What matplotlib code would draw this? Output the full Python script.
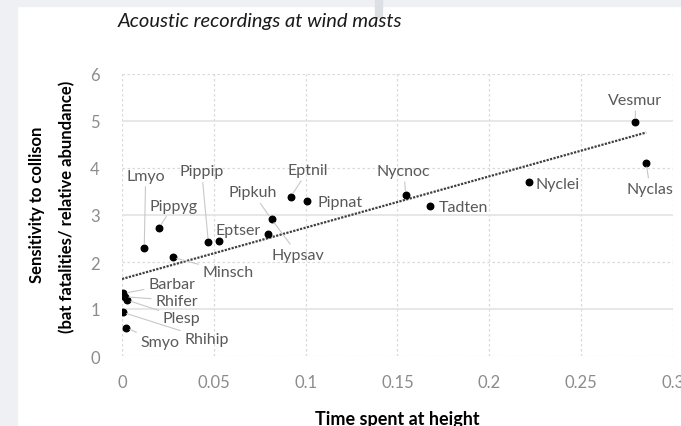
import numpy as np
import matplotlib.pyplot as plt
from matplotlib.patches import Rectangle

# species codes and their values
species = ["Lmyo", "Pippyg", "Minsch", "Pippip", "Hypsav", "Eptser", "Pipkuh",
           "Eptnil", "Pipnat", "Nycnoc", "Tadten", "Nyclei", "Vesmur", "Nyclas",
           "Barbar", "Rhifer", "Plesp", "Rhihip", "Smyo"]
time_at_height = [0.0121, 0.0201, 0.0276, 0.0470, 0.0528, 0.0793, 0.0814,
                  0.0919, 0.1005, 0.1545, 0.1676, 0.2214, 0.2795, 0.2854,
                  0.0007, 0.0015, 0.0027, 0.0004, 0.0022]
sensitivity = [2.30, 2.72, 2.10, 2.43, 2.45, 2.60, 2.91,
               3.39, 3.29, 3.43, 3.20, 3.71, 4.97, 4.11,
               1.33, 1.26, 1.19, 0.93, 0.60]

# where each data label sits, and which point its leader line goes to (None = no line)
label_x = [0.0129, 0.0279, 0.0578, 0.0434, 0.0960, 0.0633, 0.0711,
           0.1014, 0.1186, 0.1534, 0.1857, 0.2374, 0.2795, 0.2875,
           0.0270, 0.0297, 0.0325, 0.0461, 0.0207]
label_y = [3.84, 3.20, 1.78, 3.93, 2.15, 2.69, 3.48,
           3.96, 3.28, 3.94, 3.18, 3.67, 5.45, 3.55,
           1.53, 1.18, 0.81, 0.36, 0.29]
leader_to = ["Lmyo", "Pippyg", "Minsch", "Pippip", "Pipkuh", None, "Pipkuh",
             "Eptnil", None, "Nycnoc", None, None, "Vesmur", "Nyclas",
             "Barbar", "Rhifer", "Plesp", "Rhihip", "Smyo"]

x_ticks = [0, 0.05, 0.1, 0.15, 0.2, 0.25, 0.3]
x_tick_labels = ["0", "0.05", "0.1", "0.15", "0.2", "0.25", "0.3"]
y_ticks = [0, 1, 2, 3, 4, 5, 6]

plt.rcParams["font.family"] = ["Lato", "DejaVu Sans"]

fig = plt.figure(figsize=(6.81, 4.27), dpi=100)
fig.patch.set_facecolor("white")
# grey page frame around the chart
fig.patches.append(Rectangle((0, 0), 17 / 681, 1, transform=fig.transFigure,
                             color="#eef0f3", zorder=0))
fig.patches.append(Rectangle((0, 1 - 7 / 427), 1, 7 / 427, transform=fig.transFigure,
                             color="#eef0f3", zorder=0))
fig.patches.append(Rectangle((375 / 681, 1 - 18 / 427), 7 / 681, 18 / 427,
                             transform=fig.transFigure, color="#dcdfe3", zorder=0))

ax = fig.add_axes([122 / 681, 1 - 357 / 427, 551 / 681, 282 / 427])
ax.set_xlim(0, 0.3)
ax.set_ylim(0, 6)
for s in ax.spines.values():
    s.set_visible(False)

# gridlines
for x in x_ticks:
    ax.axvline(x, color="#d9d9d9", lw=0.9, ls=(0, (2, 2)), zorder=0)
for y in y_ticks:
    if y % 2 == 1:
        ax.axhline(y, color="#e3e3e3", lw=1.2, zorder=0)
    else:
        ax.axhline(y, color="#d9d9d9", lw=0.9, ls=(0, (2, 2)), zorder=0)

ax.set_xticks(x_ticks)
ax.set_xticklabels(x_tick_labels)
ax.set_yticks(y_ticks)
ax.tick_params(length=0, colors="#8c8c8c", labelsize=12)
ax.tick_params(axis="x", pad=13)
ax.tick_params(axis="y", pad=16)
for lab in ax.get_xticklabels():
    lab.set_clip_on(False)

# linear trendline
coef = np.polyfit(time_at_height, sensitivity, 1)
tx = np.array([0, max(time_at_height)])
ax.plot(tx, np.polyval(coef, tx), ls=(0, (1, 0.6)), color="#404040", lw=1.6, zorder=2)

ax.scatter(time_at_height, sensitivity, s=22, color="black", zorder=3)

pos = dict(zip(species, zip(time_at_height, sensitivity)))
for name, lx, ly, tgt in zip(species, label_x, label_y, leader_to):
    if tgt is None:
        ax.text(lx, ly, name, ha="center", va="center", fontsize=11.5, color="#595959")
    else:
        ax.annotate(name, xy=pos[tgt], xytext=(lx, ly), textcoords="data",
                    ha="center", va="center", fontsize=11.5, color="#595959",
                    arrowprops=dict(arrowstyle="-", color="#c8c8c8", lw=0.8,
                                    shrinkA=1, shrinkB=3))

ax.set_xlabel("Time spent at height", fontsize=13, fontweight="bold", labelpad=14)

# two-line y title, placed line by line to match the wide line gap
fig.text(37 / 681, 1 - 205 / 427, "Sensitivity to collison", rotation=90,
         fontsize=12, fontweight="bold", ha="center", va="center")
fig.text(67 / 681, 1 - 207 / 427, "(bat fatalities/ relative abundance)", rotation=90,
         fontsize=12, fontweight="bold", ha="center", va="center")

fig.text(118 / 681, 1 - 21 / 427, "Acoustic recordings at wind masts",
         fontsize=14.5, style="italic", color="#1a1a1a", ha="left", va="center")

fig.savefig("out.png", dpi=100)
